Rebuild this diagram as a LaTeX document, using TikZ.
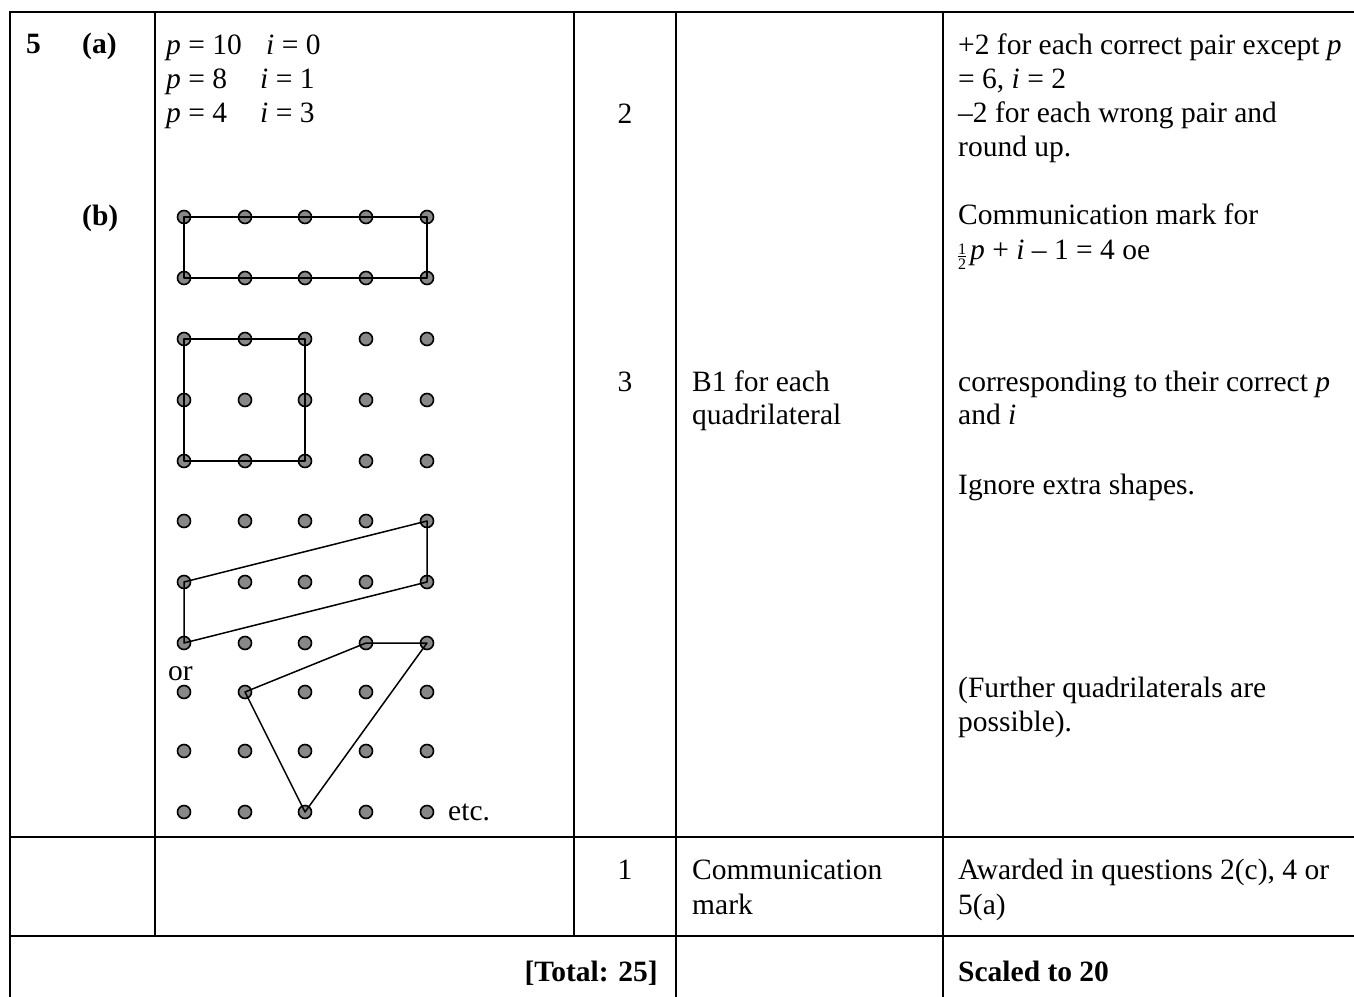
\documentclass[tikz,border=0pt]{standalone}
\usepackage{fontspec}
\setmainfont{Liberation Serif}
\definecolor{dotgray}{RGB}{136,136,136}
\newcommand{\myhalf}{\raisebox{-10pt}{\fontsize{16}{16}\selectfont\vbox{\offinterlineskip\halign{\hfil##\hfil\cr 1\cr\noalign{\kern1.5pt\hrule height0.6pt\kern1.5pt}2\cr}}}\kern4pt}
\tikzset{
  txt/.style={anchor=base west, inner sep=0pt, font=\fontsize{29.5}{34}\selectfont},
  ctxt/.style={anchor=base, inner sep=0pt, font=\fontsize{29.5}{34}\selectfont},
  rtxt/.style={anchor=base east, inner sep=0pt, font=\fontsize{29.5}{34}\selectfont},
  dot/.style={circle, draw=black, line width=1.6pt, fill=dotgray, minimum size=13pt, inner sep=0pt},
  rule/.style={line width=2pt},
  poly/.style={line width=1.5pt, line join=round}
}
\begin{document}
\begin{tikzpicture}[x=1pt,y=-1pt]
\useasboundingbox (0,0) rectangle (1354,996);
% table rules
\draw[rule] (10,12) -- (1356,12);
\draw[rule] (10,11) -- (10,998);
\draw[rule] (155,12) -- (155,936);
\draw[rule] (574,12) -- (574,936);
\draw[rule] (676,12) -- (676,998);
\draw[rule] (943,12) -- (943,998);
\draw[rule] (10,837) -- (1356,837);
\draw[rule] (10,936) -- (1356,936);
% column 1
\node[txt, font=\fontsize{29.5}{34}\selectfont\bfseries] (q5) at (26,53) {5};
\node[txt, font=\fontsize{29.5}{34}\selectfont\bfseries] (qa) at (82,53) {(a)};
\node[txt, font=\fontsize{29.5}{34}\selectfont\bfseries] (qb) at (82,225) {(b)};
% column 2 answers
\node[txt] (p1) at (166,54) {\textit{p} = 10};
\node[txt] (i1) at (266,54) {\textit{i} = 0};
\node[txt] (p2) at (166,88) {\textit{p} = 8};
\node[txt] (i2) at (260,88) {\textit{i} = 1};
\node[txt] (p3) at (166,122) {\textit{p} = 4};
\node[txt] (i3) at (260,122) {\textit{i} = 3};
% dots
\foreach \r/\y in {1/217,2/278,3/339,4/400,5/461,6/521,7/582,8/643,9/692,10/751,11/812}{
  \foreach \c/\x in {1/184,2/245,3/305,4/366,5/427}{
    \node[dot] (d\r-\c) at (\x,\y) {};
  }
}
\draw[poly] (d1-1.center) -- (d1-5.center) -- (d2-5.center) -- (d2-1.center) -- cycle;
\draw[poly] (d3-1.center) -- (d3-3.center) -- (d5-3.center) -- (d5-1.center) -- cycle;
\draw[poly] (d7-1.center) -- (d6-5.center) -- (d7-5.center) -- (d8-1.center) -- cycle;
\draw[poly] (d9-2.center) -- (d8-4.center) -- (d8-5.center) -- (d11-3.center) -- cycle;
\node[txt] (or) at (168,680) {or};
\node[txt] (etc) at (448,820) {etc.};
% column 3
\node[ctxt] (m2) at (625,123) {2};
\node[ctxt] (m3) at (625,391) {3};
\node[ctxt] (m1) at (625,879) {1};
% column 4
\node[txt] (b1a) at (692,391) {B1 for each};
\node[txt] (b1b) at (692,424) {quadrilateral};
\node[txt] (cma) at (692,879) {Communication};
\node[txt] (cmb) at (692,914) {mark};
% column 5
\node[txt] (r1) at (958,54) {+2 for each correct pair except \textit{p}};
\node[txt] (r2) at (958,88) {= 6, \textit{i} = 2};
\node[txt] (r3) at (958,122) {–2 for each wrong pair and};
\node[txt] (r4) at (958,156) {round up.};
\node[txt] (r5) at (958,224) {Communication mark for};
\node[txt] (r6) at (958,259) {\myhalf\textit{p} + \textit{i} – 1 = 4 oe};
\node[txt] (r7) at (958,391) {corresponding to their correct \textit{p}};
\node[txt] (r8) at (958,424) {and \textit{i}};
\node[txt] (r9) at (958,494) {Ignore extra shapes.};
\node[txt] (r10) at (958,697) {(Further quadrilaterals are};
\node[txt] (r11) at (958,731) {possible).};
\node[txt] (r12) at (958,879) {Awarded in questions 2(c), 4 or};
\node[txt] (r13) at (958,914) {5(a)};
% total row
\node[rtxt, font=\fontsize{29.5}{34}\selectfont\bfseries] (tot) at (658,981) {[Total: 25]};
\node[txt, font=\fontsize{29.5}{34}\selectfont\bfseries] (sc) at (958,981) {Scaled to 20};
\end{tikzpicture}
\end{document}
